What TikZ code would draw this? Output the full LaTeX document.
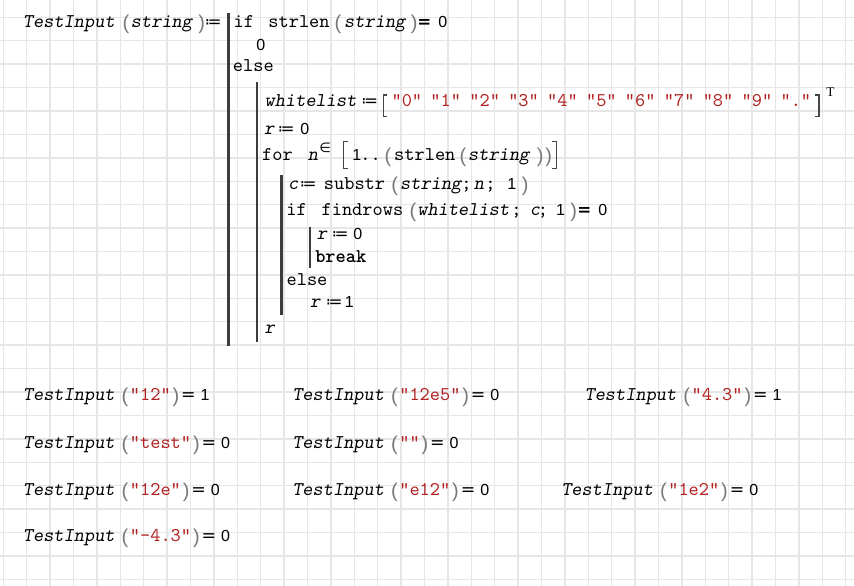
\documentclass[tikz,border=0pt]{standalone}
\usepackage{fontspec}
\usepackage{xcolor}
\usepackage{tikz}
\newfontfamily\codef{lmmono10-regular.otf}[ItalicFont=lmmonoslant10-regular.otf,BoldFont=lmmonolt10-bold.otf]
\newfontfamily\sansf{Liberation Sans}
\newfontfamily\symf{DejaVu Sans}
\newfontfamily\serf{Liberation Serif}

\definecolor{strred}{RGB}{178,34,34}
\definecolor{pargray}{RGB}{120,120,120}
\definecolor{gridgray}{RGB}{230,230,230}
\definecolor{bargray}{RGB}{60,60,60}
\definecolor{brgray}{RGB}{70,70,70}

\newlength\pxu \setlength\pxu{0.75pt}
\newcommand\at[2]{\rlap{\hspace*{#1\pxu}#2}}
\newcommand\g[1]{\hspace*{#1\pxu}}
\newcommand\vv[1]{\textit{#1}}
\newcommand\num[1]{{\sansf\fontsize{12}{12}\selectfont #1}}
\newcommand\str[1]{\textcolor{strred}{"#1"}}
\newcommand\lp{\raisebox{-2\pxu}{\textcolor{pargray}{\sansf\fontsize{15}{15}\selectfont(}}}
\newcommand\rp{\raisebox{-2\pxu}{\textcolor{pargray}{\sansf\fontsize{15}{15}\selectfont)}}}
\newcommand\eq{{\symf\fontsize{13}{13}\selectfont =}}
\newcommand\eqb{{\symf\bfseries\fontsize{12.5}{13}\selectfont =}}
\newcommand\as{{\symf\fontsize{12.5}{13}\selectfont ≔}}
\newcommand\Test[2]{\vv{TestInput}\g{7}\lp\g{1.6}\str{#1}\g{1.9}\rp\g{1.9}\eq\g{5}\num{#2}}

\begin{document}
\begin{tikzpicture}[x=0.75pt,y=-0.75pt,
  every node/.style={inner sep=0pt, anchor=base west, font=\codef\fontsize{14.57}{17}\selectfont},
  gridline/.style={gridgray, line width=1.1pt},
  bar/.style={bargray, line width=1.9pt},
  brk/.style={brgray, line width=0.9pt}]
\fill[white] (0,0) rectangle (854,586);
\useasboundingbox (0,0) rectangle (854,586);

% worksheet grid
\foreach \i in {0,...,36}
  \draw[gridline] ({3.3+23.4*\i},0) -- ({3.3+23.4*\i},586);
\foreach \j in {0,...,24}
  \draw[gridline] (0,{17.3+23.42*\j}) -- (854,{17.3+23.42*\j});

% program bars
\draw[bar] (228.3,13.3) -- (228.3,346);
\draw[bar] (257,82) -- (257,341.7);
\draw[bar] (281.7,175) -- (281.7,315);
\draw[bar] (310,226.7) -- (310,268.3);

% definition
\node (def) at (0,27.5) {\at{22}{\vv{TestInput}}\at{121.7}{\lp}\at{130}{\vv{string}}\at{197.5}{\rp}\at{204}{\as}};
\node (cond) at (0,27.5) {\at{232.7}{if}\at{267.5}{strlen}\at{333.7}{\lp}\at{343.3}{\vv{string}}\at{410}{\rp}\at{416.4}{\eqb}\at{437.4}{\num{0}}};
\node (zero) at (0,50.7) {\at{255.4}{\num{0}}};
\node (else) at (0,71.7) {\at{232}{else}};

% whitelist
\node (wl) at (0,106.7) {\at{263.8}{\vv{whitelist}}\at{360.5}{\as}};
\draw[brk] (387,95) -| (383.5,116.7) -- (387,116.7);
\foreach \s [count=\k from 0] in {0,1,2,3,4,5,6,7,8,9,.}
  \node (w\k) at ({391.3+38.9*\k},106.7) {\str{\s}};
\draw[brk] (815,95) -| (819,116.7) -- (815,116.7);
\node (tr) at (826,96) {\serf\fontsize{10}{10}\selectfont T};

\node (r0) at (0,134) {\at{263.3}{\vv{r}}\at{277}{\as}\at{299.4}{\num{0}}};

% loop
\node (loop) at (0,160.7) {\at{261.3}{for}\at{307}{\vv{n}}\at{318.5}{\raisebox{8\pxu}{\symf\fontsize{10}{10}\selectfont ∈}}\at{351.5}{\num{1}}\at{359.5}{..}\at{383.7}{\lp}\at{393.3}{strlen}\at{458.7}{\lp}\at{467.3}{\vv{string}}\at{536}{\rp}\at{544.5}{\rp}};
\draw[brk] (348,141.7) -| (343.5,168.3) -- (348,168.3);
\draw[brk] (552,141.7) -| (556.5,168.3) -- (552,168.3);

\node (sub) at (0,189.3) {\at{287.3}{\vv{c}}\at{299}{\as}\at{323}{substr}\at{390.4}{\lp}\at{399.3}{\vv{string}}\at{460.5}{;}\at{473}{\vv{n}}\at{484.5}{;}\at{506.5}{\num{1}}\at{521}{\rp}};
\node (find) at (0,215) {\at{285.4}{if}\at{320.7}{findrows}\at{408.7}{\lp}\at{416.5}{\vv{whitelist}}\at{510.5}{;}\at{529}{\vv{c}}\at{537}{;}\at{555.2}{\num{1}}\at{569.4}{\rp}\at{576.4}{\eqb}\at{597.4}{\num{0}}};
\node (r0b) at (0,239.3) {\at{316}{\vv{r}}\at{331}{\as}\at{352.4}{\num{0}}};
\node (brk) at (315,262.3) {\textbf{break}};
\node (else2) at (0,285) {\at{285.7}{else}};
\node (r1) at (0,307.3) {\at{309.3}{\vv{r}}\at{325}{\as}\at{344}{\num{1}}};
\node (ret) at (264.3,333.3) {\vv{r}};

% test calls
\foreach \x/\y/\a/\r/\nm in {22.6/400.7/12/1/t1, 292/400.7/12e5/0/t2, 584.3/400.7/4.3/1/t3,
    22.6/448.3/test/0/t4, 292/448.3//0/t5,
    22.6/495/12e/0/t6, 292/495/e12/0/t7, 561/495/1e2/0/t8,
    22.6/541.7/-4.3/0/t9}
  \node (\nm) at (\x,\y) {\Test{\a}{\r}};

\end{tikzpicture}
\end{document}
